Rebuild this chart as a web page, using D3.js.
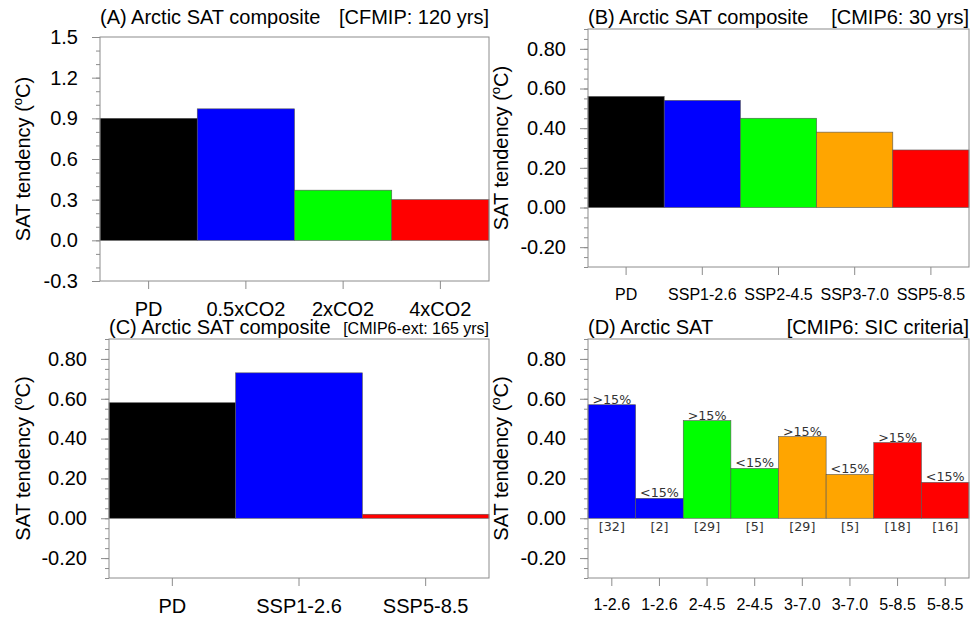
<!DOCTYPE html>
<html>
<head>
<meta charset="utf-8">
<script src="https://cdn.jsdelivr.net/npm/d3@7"></script>
<style>
  html, body { margin: 0; padding: 0; background: #fff; }
  svg { display: block; }
</style>
</head>
<body>
<svg id="chart" width="970" height="617"></svg>
<script>
// ---------------- data ----------------
const catsA = ["PD", "0.5xCO2", "2xCO2", "4xCO2"];
const valsA = [0.90, 0.97, 0.37, 0.30];
const ticksA = [-0.3, 0.0, 0.3, 0.6, 0.9, 1.2, 1.5];
const tickLabelsA = ["-0.3", "0.0", "0.3", "0.6", "0.9", "1.2", "1.5"];

const catsB = ["PD", "SSP1-2.6", "SSP2-4.5", "SSP3-7.0", "SSP5-8.5"];
const valsB = [0.56, 0.54, 0.45, 0.38, 0.29];

const catsC = ["PD", "SSP1-2.6", "SSP5-8.5"];
const valsC = [0.58, 0.73, 0.02];

const catsD = ["1-2.6", "1-2.6", "2-4.5", "2-4.5", "3-7.0", "3-7.0", "5-8.5", "5-8.5"];
const valsD = [0.57, 0.10, 0.49, 0.25, 0.41, 0.22, 0.38, 0.18];
const critD = [">15%", "<15%", ">15%", "<15%", ">15%", "<15%", ">15%", "<15%"];
const countsD = ["[32]", "[2]", "[29]", "[5]", "[29]", "[5]", "[18]", "[16]"];

const ticksBCD = [-0.2, 0.0, 0.2, 0.4, 0.6, 0.8];
const tickLabelsBCD = ["-0.20", "0.00", "0.20", "0.40", "0.60", "0.80"];

// palette
const BLACK = "#000000", BLUE = "#0000ff", GREEN = "#00ff00", ORANGE = "#ffa500", RED = "#ff0000";
const colorsA = [BLACK, BLUE, GREEN, RED];
const colorsB = [BLACK, BLUE, GREEN, ORANGE, RED];
const colorsC = [BLACK, BLUE, RED];
const colorsD = [BLUE, BLUE, GREEN, GREEN, ORANGE, ORANGE, RED, RED];

const FONT = "'Liberation Sans', Arial, Helvetica, sans-serif";
const FONT2 = "'DejaVu Sans', sans-serif";
const FRAME = "#8c8c8c";

const svg = d3.select("#chart");

function range(a, b, step) {
  const out = [];
  const n = Math.round((b - a) / step);
  for (let i = 0; i <= n; i++) out.push(+(a + i * step).toFixed(4));
  return out;
}

function panel(cfg) {
  const g = svg.append("g");
  const x = d3.scaleBand().domain(d3.range(cfg.cats.length)).range([cfg.x0, cfg.x1]).padding(0);
  const y = d3.scaleLinear().domain(cfg.ydom).range([cfg.y1, cfg.y0]);

  // bars
  g.selectAll("rect.bar").data(cfg.vals).enter().append("rect")
    .attr("class", "bar")
    .attr("x", (d, i) => x(i))
    .attr("width", x.bandwidth())
    .attr("y", d => y(Math.max(0, d)))
    .attr("height", d => Math.abs(y(d) - y(0)))
    .attr("fill", (d, i) => cfg.colors[i])
    .attr("stroke", "#555")
    .attr("stroke-width", 0.6);

  // minor y ticks
  const minor = g.append("g").attr("transform", `translate(${cfg.x0},0)`)
    .call(d3.axisLeft(y).tickValues(cfg.minor).tickSize(4).tickFormat(""));
  minor.select(".domain").remove();
  minor.selectAll("line").attr("stroke", FRAME);

  // major y ticks
  const ya = g.append("g").attr("transform", `translate(${cfg.x0},0)`)
    .call(d3.axisLeft(y).tickValues(cfg.yticks).tickSize(8).tickPadding(14)
      .tickFormat((d, i) => cfg.ylabels[i]));
  ya.select(".domain").remove();
  ya.selectAll("line").attr("stroke", FRAME);
  ya.selectAll("text").attr("font-family", FONT).attr("font-size", 20).attr("fill", "#000");

  // x ticks
  const xa = g.append("g").attr("transform", `translate(0,${cfg.y1})`)
    .call(d3.axisBottom(x).tickSize(8).tickFormat(i => cfg.cats[i]));
  xa.select(".domain").remove();
  xa.selectAll("line").attr("stroke", FRAME);
  xa.selectAll("text").attr("font-family", FONT).attr("font-size", cfg.xfs).attr("fill", "#000")
    .attr("dy", 0).attr("y", cfg.xbase - cfg.y1);

  // frame
  g.append("rect").attr("x", cfg.x0).attr("y", cfg.y0)
    .attr("width", cfg.x1 - cfg.x0).attr("height", cfg.y1 - cfg.y0)
    .attr("fill", "none").attr("stroke", FRAME).attr("stroke-width", 1);

  // y title
  const yt = g.append("text")
    .attr("transform", `translate(${cfg.ytx},${(cfg.y0 + cfg.y1) / 2}) rotate(-90)`)
    .attr("text-anchor", "middle").attr("font-family", FONT).attr("font-size", 20);
  yt.append("tspan").text("SAT tendency (");
  yt.append("tspan").attr("font-size", 13).attr("dy", -8).text("o");
  yt.append("tspan").attr("dy", 8).text("C)");

  // titles
  g.append("text").attr("x", cfg.x0).attr("y", cfg.tbase)
    .attr("font-family", FONT).attr("font-size", 20).text(cfg.titleL);
  g.append("text").attr("x", cfg.x1).attr("y", cfg.tbase).attr("text-anchor", "end")
    .attr("font-family", FONT).attr("font-size", cfg.trfs).text(cfg.titleR);

  return { g, x, y };
}

panel({
  cats: catsA, vals: valsA, colors: colorsA,
  x0: 100, x1: 489, y0: 37, y1: 281, ydom: [-0.3, 1.5],
  yticks: ticksA, ylabels: tickLabelsA, minor: range(-0.3, 1.5, 0.1),
  xfs: 20, xbase: 316, ytx: 30, tbase: 24,
  titleL: "(A) Arctic SAT composite", titleR: "[CFMIP: 120 yrs]", trfs: 20
});

panel({
  cats: catsB, vals: valsB, colors: colorsB,
  x0: 588, x1: 969, y0: 29, y1: 267, ydom: [-0.3, 0.9],
  yticks: ticksBCD, ylabels: tickLabelsBCD, minor: range(-0.3, 0.9, 0.05),
  xfs: 16, xbase: 300, ytx: 508, tbase: 24,
  titleL: "(B) Arctic SAT composite", titleR: "[CMIP6: 30 yrs]", trfs: 20
});

panel({
  cats: catsC, vals: valsC, colors: colorsC,
  x0: 109, x1: 489, y0: 339, y1: 578, ydom: [-0.3, 0.9],
  yticks: ticksBCD, ylabels: tickLabelsBCD, minor: range(-0.3, 0.9, 0.05),
  xfs: 20, xbase: 613, ytx: 30, tbase: 334,
  titleL: "(C) Arctic SAT composite", titleR: "[CMIP6-ext: 165 yrs]", trfs: 16
});

const pD = panel({
  cats: catsD, vals: valsD, colors: colorsD,
  x0: 588, x1: 969, y0: 339, y1: 578, ydom: [-0.3, 0.9],
  yticks: ticksBCD, ylabels: tickLabelsBCD, minor: range(-0.3, 0.9, 0.05),
  xfs: 16, xbase: 610, ytx: 508, tbase: 334,
  titleL: "(D) Arctic SAT", titleR: "[CMIP6: SIC criteria]", trfs: 20
});

// annotations in D
pD.g.selectAll("text.crit").data(valsD).enter().append("text")
  .attr("class", "crit")
  .attr("x", (d, i) => pD.x(i) + pD.x.bandwidth() / 2)
  .attr("y", d => pD.y(d) - 1)
  .attr("text-anchor", "middle").attr("font-family", FONT2).attr("font-size", 12.7)
  .attr("fill", "#333").text((d, i) => critD[i]);

pD.g.selectAll("text.cnt").data(countsD).enter().append("text")
  .attr("class", "cnt")
  .attr("x", (d, i) => pD.x(i) + pD.x.bandwidth() / 2)
  .attr("y", pD.y(0) + 13)
  .attr("text-anchor", "middle").attr("font-family", FONT2).attr("font-size", 12.7)
  .attr("fill", "#333").text(d => d);
</script>
</body>
</html>
